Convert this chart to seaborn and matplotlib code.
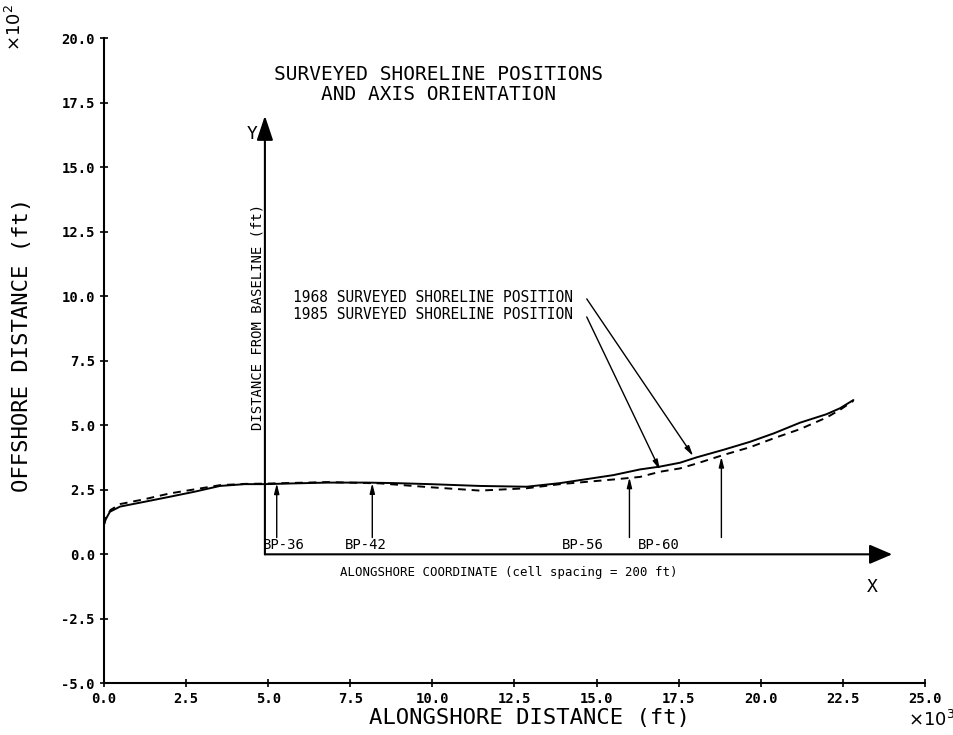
import seaborn as sns
import matplotlib.pyplot as plt

# shoreline positions (x in 10^3 ft, y in 10^2 ft)
x_1968 = [0.0, 0.05, 0.18, 0.49, 1.25, 2.0, 2.77, 3.53, 4.29, 4.9, 5.5, 6.8, 8.0, 8.86,
          9.93, 11.45, 12.87, 13.89, 15.51, 16.32, 16.93, 17.54, 18.05, 18.86, 19.67,
          20.4, 21.19, 22.0, 22.41, 22.82]
y_1968 = [1.15, 1.35, 1.65, 1.85, 2.04, 2.23, 2.43, 2.65, 2.72, 2.72, 2.74, 2.78, 2.78, 2.76,
          2.72, 2.65, 2.62, 2.76, 3.07, 3.29, 3.40, 3.55, 3.76, 4.05, 4.36,
          4.69, 5.10, 5.43, 5.66, 5.98]

x_1985 = [0.0, 0.05, 0.2, 0.5, 1.25, 2.0, 2.77, 3.53, 4.29, 4.9, 6.8, 8.4, 9.93, 11.45,
          12.87, 13.89, 15.51, 16.32, 16.93, 17.54, 18.05, 18.86, 19.67, 20.4, 21.19,
          22.0, 22.41, 22.82]
y_1985 = [1.15, 1.40, 1.72, 1.95, 2.14, 2.36, 2.52, 2.68, 2.73, 2.74, 2.80, 2.75, 2.60, 2.47,
          2.56, 2.72, 2.90, 3.00, 3.20, 3.33, 3.52, 3.85, 4.15, 4.50, 4.85,
          5.30, 5.60, 5.95]

# profile markers
bp_labels = ['BP-36', 'BP-42', 'BP-56', 'BP-60']
bp_x = [5.26, 8.17, 16.0, 18.8]
bp_tip = [2.75, 2.76, 2.98, 3.78]
bp_text_x = [4.84, 7.34, 13.95, 16.26]

xticks = [0.0, 2.5, 5.0, 7.5, 10.0, 12.5, 15.0, 17.5, 20.0, 22.5, 25.0]
yticks = [-5.0, -2.5, 0.0, 2.5, 5.0, 7.5, 10.0, 12.5, 15.0, 17.5, 20.0]

sns.set_style('ticks')
plt.rcParams['font.family'] = ['DejaVu Sans Mono', 'DejaVu Sans']
plt.rcParams['text.color'] = 'black'
plt.rcParams['axes.labelcolor'] = 'black'
plt.rcParams['xtick.color'] = 'black'
plt.rcParams['ytick.color'] = 'black'

fig = plt.figure(figsize=(9.54, 7.35), dpi=100)
ax = fig.add_axes([0.109, 0.0703, 0.8606, 0.8776])

sns.lineplot(x=x_1968, y=y_1968, ax=ax, color='black', lw=1.4, sort=False, estimator=None)
sns.lineplot(x=x_1985, y=y_1985, ax=ax, color='black', lw=1.4, sort=False, estimator=None,
             linestyle=(0, (4, 3)))

ax.set_xlim(0, 25)
ax.set_ylim(-5, 20)
ax.set_xticks(xticks)
ax.set_yticks(yticks)
ax.set_xticklabels(['%.1f' % v for v in xticks], fontsize=10, fontweight='bold')
ax.set_yticklabels(['%.1f' % v for v in yticks], fontsize=10, fontweight='bold')
ax.tick_params(direction='inout', length=6, width=1.2, color='black')
sns.despine(ax=ax)
for s in ['left', 'bottom']:
    ax.spines[s].set_linewidth(1.5)
    ax.spines[s].set_color('black')

ax.set_xlabel('ALONGSHORE DISTANCE (ft)', fontsize=16)
ax.xaxis.set_label_coords(0.518, -0.038)
ax.set_ylabel('OFFSHORE DISTANCE (ft)', fontsize=16)
ax.yaxis.set_label_coords(-0.088, 0.524)
ax.text(1.008, -0.057, r'$\times10^3$', transform=ax.transAxes, fontsize=13, ha='center', va='center')
ax.text(-0.108, 1.016, r'$\times10^2$', transform=ax.transAxes, fontsize=13, ha='center', va='center',
        rotation=90)

ax.text(10.2, 18.2, 'SURVEYED SHORELINE POSITIONS\nAND AXIS ORIENTATION', fontsize=14,
        ha='center', va='center', linespacing=1.05)

# inner axis system
ax.annotate('', xy=(4.9, 17.0), xytext=(4.9, 0.0),
            arrowprops=dict(arrowstyle='-|>,head_length=1.5,head_width=0.5', color='black', lw=1.5,
                            shrinkA=0, shrinkB=0))
ax.annotate('', xy=(24.0, 0.0), xytext=(4.9, 0.0),
            arrowprops=dict(arrowstyle='-|>,head_length=1.4,head_width=0.6', color='black', lw=1.5,
                            shrinkA=0, shrinkB=0))
ax.text(4.5, 16.3, 'Y', fontsize=13, ha='center', va='center')
ax.text(23.4, -1.25, 'X', fontsize=13, ha='center', va='center')
ax.text(4.67, 9.2, 'DISTANCE FROM BASELINE (ft)', fontsize=10, rotation=90, ha='center', va='center')
ax.text(12.33, -0.72, 'ALONGSHORE COORDINATE (cell spacing = 200 ft)', fontsize=8.9,
        ha='center', va='center')

for lab, bx, tip, tx in zip(bp_labels, bp_x, bp_tip, bp_text_x):
    ax.annotate('', xy=(bx, tip), xytext=(bx, 0.65),
                arrowprops=dict(arrowstyle='-|>,head_length=0.6,head_width=0.15', color='black',
                                lw=1.0, shrinkA=0, shrinkB=0))
    ax.text(tx, 0.08, lab, fontsize=10, ha='left', va='bottom')

ax.text(5.76, 9.97, '1968 SURVEYED SHORELINE POSITION', fontsize=10.5, ha='left', va='center')
ax.text(5.76, 9.28, '1985 SURVEYED SHORELINE POSITION', fontsize=10.5, ha='left', va='center')
ax.annotate('', xy=(17.94, 3.81), xytext=(14.7, 9.9),
            arrowprops=dict(arrowstyle='-|>,head_length=0.6,head_width=0.15', color='black',
                            lw=1.0, shrinkA=0, shrinkB=0))
ax.annotate('', xy=(16.93, 3.27), xytext=(14.7, 9.2),
            arrowprops=dict(arrowstyle='-|>,head_length=0.6,head_width=0.15', color='black',
                            lw=1.0, shrinkA=0, shrinkB=0))

fig.savefig('out.png', dpi=100)
